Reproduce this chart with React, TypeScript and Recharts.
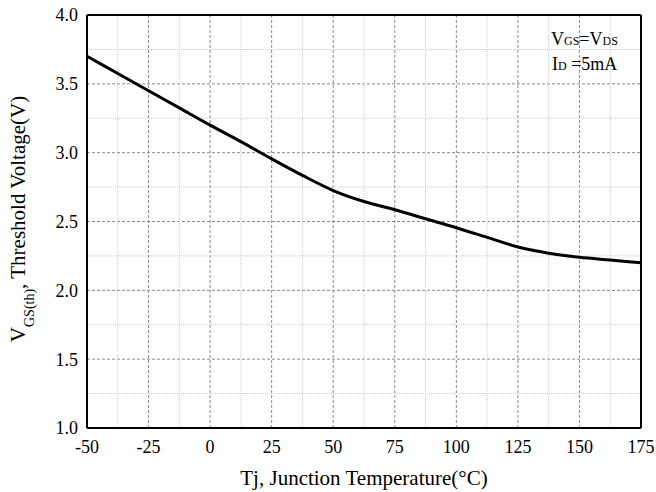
import React from "react";
import { LineChart, Line, XAxis, YAxis, CartesianGrid, ReferenceLine, Customized } from "recharts";

const temps = [-50, -37.5, -25, -12.5, 0, 12.5, 25, 37.5, 50, 62.5, 75, 87.5, 100, 112.5, 125, 137.5, 150, 162.5, 175];
const vth = [3.7, 3.575, 3.45, 3.325, 3.2, 3.08, 2.955, 2.835, 2.725, 2.645, 2.585, 2.52, 2.455, 2.385, 2.315, 2.27, 2.24, 2.22, 2.2];
const xTicks = [-50, -25, 0, 25, 50, 75, 100, 125, 150, 175];
const yTicks = [1.0, 1.5, 2.0, 2.5, 3.0, 3.5, 4.0];
const xMinor = [-37.5, -12.5, 12.5, 37.5, 62.5, 87.5, 112.5, 137.5, 162.5];
const yMinor = [1.25, 1.75, 2.25, 2.75, 3.25, 3.75];

const data = temps.map((t, i) => ({ t, v: vth[i] }));
const FONT = "'Liberation Serif', 'Times New Roman', serif";

const Texts = () => (
  <g fontFamily={FONT} fill="#000">
    <text x={551} y={45} fontSize={18}>
      V<tspan fontSize={12}>GS</tspan>=V<tspan fontSize={12}>DS</tspan>
    </text>
    <text x={552} y={70} fontSize={18}>
      I<tspan fontSize={12}>D</tspan> =5mA
    </text>
    <text x={364} y={485} fontSize={21} textAnchor="middle">Tj, Junction Temperature(°C)</text>
    <text transform="translate(25,219) rotate(-90)" fontSize={21} textAnchor="middle">
      V<tspan fontSize={14} dy={9}>GS(th)</tspan><tspan dy={-9}>, Threshold Voltage(V)</tspan>
    </text>
  </g>
);

export default function App() {
  return (
    <div style={{ position: "absolute", left: 0, top: 0, width: 656, height: 492, background: "#fff" }}>
      <LineChart width={656} height={492} data={data} margin={{ top: 15, right: 15, bottom: 0, left: 0 }}>
        <CartesianGrid stroke="#8a8a8a" strokeDasharray="3 2" strokeWidth={1} />
        {xMinor.map((x) => (
          <ReferenceLine key={"x" + x} x={x} stroke="#c8c8c8" strokeDasharray="1 1" />
        ))}
        {yMinor.map((y) => (
          <ReferenceLine key={"y" + y} y={y} stroke="#c8c8c8" strokeDasharray="1 1" />
        ))}
        <XAxis
          dataKey="t"
          type="number"
          domain={[-50, 175]}
          ticks={xTicks}
          height={64}
          tickLine={false}
          tickSize={0}
          tickMargin={12}
          axisLine={{ stroke: "#000", strokeWidth: 2 }}
          tick={{ fill: "#000", fontSize: 18, fontFamily: FONT }}
        />
        <YAxis
          type="number"
          domain={[1, 4]}
          ticks={yTicks}
          width={87}
          tickLine={false}
          tickSize={0}
          tickMargin={9}
          tickFormatter={(v: number) => v.toFixed(1)}
          axisLine={{ stroke: "#000", strokeWidth: 2 }}
          tick={{ fill: "#000", fontSize: 18, fontFamily: FONT }}
        />
        <ReferenceLine y={4} stroke="#000" strokeWidth={2} />
        <ReferenceLine x={175} stroke="#000" strokeWidth={2} />
        <Line
          type="monotone"
          dataKey="v"
          stroke="#000"
          strokeWidth={3}
          dot={false}
          isAnimationActive={false}
        />
        <Customized component={Texts} />
      </LineChart>
    </div>
  );
}
